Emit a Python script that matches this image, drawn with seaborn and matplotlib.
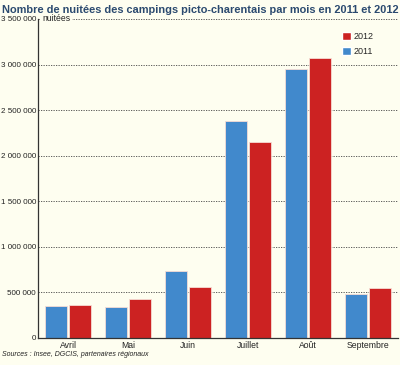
import numpy as np
import pandas as pd
import matplotlib
matplotlib.use("Agg")
import matplotlib.pyplot as plt
import seaborn as sns
from matplotlib.ticker import FuncFormatter, FixedLocator

# data
mois = ["Avril", "Mai", "Juin", "Juillet", "Août", "Septembre"]
nuitees_2011 = [351000, 340000, 735000, 2381000, 2946000, 488000]
nuitees_2012 = [362000, 433000, 554000, 2150000, 3067000, 543000]

df = pd.DataFrame({
    "mois": mois * 2,
    "annee": ["2011"] * 6 + ["2012"] * 6,
    "nuitees": nuitees_2011 + nuitees_2012,
})

sns.set_style("white")
plt.rcParams["font.family"] = ["Liberation Sans", "DejaVu Sans"]

bg = "#fefef0"
blue = "#4189cc"
red = "#cc2222"
fig = plt.figure(figsize=(4, 3.65), dpi=100, facecolor=bg)
ax = fig.add_axes([0.095, 0.074, 0.9, 0.874], facecolor=bg)

sns.barplot(data=df, x="mois", y="nuitees", hue="annee", order=mois,
            hue_order=["2011", "2012"], palette=[blue, red], saturation=1,
            width=0.8, gap=0.06, edgecolor="#f6dcd4", linewidth=0.6,
            ax=ax, legend=False)

ax.set_ylim(0, 3500000)
ax.set_xlim(-0.5, 5.5)
ax.set_yticks(np.arange(0, 3500001, 500000))
ax.yaxis.set_major_formatter(FuncFormatter(lambda v, p: f"{int(v):,}".replace(",", " ")))
for y in np.arange(500000, 3500001, 500000):
    ax.axhline(y, color="#444444", lw=0.6, ls=(0, (1.5, 1.5)), zorder=0)

ax.tick_params(axis="y", length=0, labelsize=5.8, pad=1.5, colors="#222222")
ax.set_xticks(range(6))
ax.set_xticklabels(mois)
ax.tick_params(axis="x", length=0, labelsize=6.2, pad=2, colors="#222222")
ax.xaxis.set_minor_locator(FixedLocator(np.arange(0.5, 6, 1)))
ax.tick_params(axis="x", which="minor", length=6, width=0.8, direction="in", color="#333333")
ax.set_xlabel("")
ax.set_ylabel("")

for s in ["top", "right"]:
    ax.spines[s].set_visible(False)
for s in ["left", "bottom"]:
    ax.spines[s].set_color("#333333")
    ax.spines[s].set_linewidth(0.9)

# legend (2012 above 2011)
h2012 = plt.Rectangle((0, 0), 1, 1, fc=red)
h2011 = plt.Rectangle((0, 0), 1, 1, fc=blue)
leg = ax.legend([h2012, h2011], ["2012", "2011"], loc="upper right",
                bbox_to_anchor=(0.955, 0.985), frameon=False, fontsize=6.5,
                handlelength=0.95, handleheight=0.95, handletextpad=0.35,
                labelspacing=0.65)

fig.text(0.004, 0.985, "Nombre de nuitées des campings picto-charentais par mois en 2011 et 2012",
         fontsize=7.9, fontweight="bold", color="#2b4a6f", va="top", ha="left")
ax.text(0.012, 1.0, "nuitées", transform=ax.transAxes, fontsize=6.2,
        va="center", ha="left", color="#222222",
        bbox=dict(fc=bg, ec="none", pad=1))
fig.text(0.005, 0.028, "Sources : Insee, DGCIS, partenaires régionaux",
         fontsize=5.0, style="italic", color="#222222", va="center", ha="left")

fig.savefig("out.png", dpi=100, facecolor=bg)
